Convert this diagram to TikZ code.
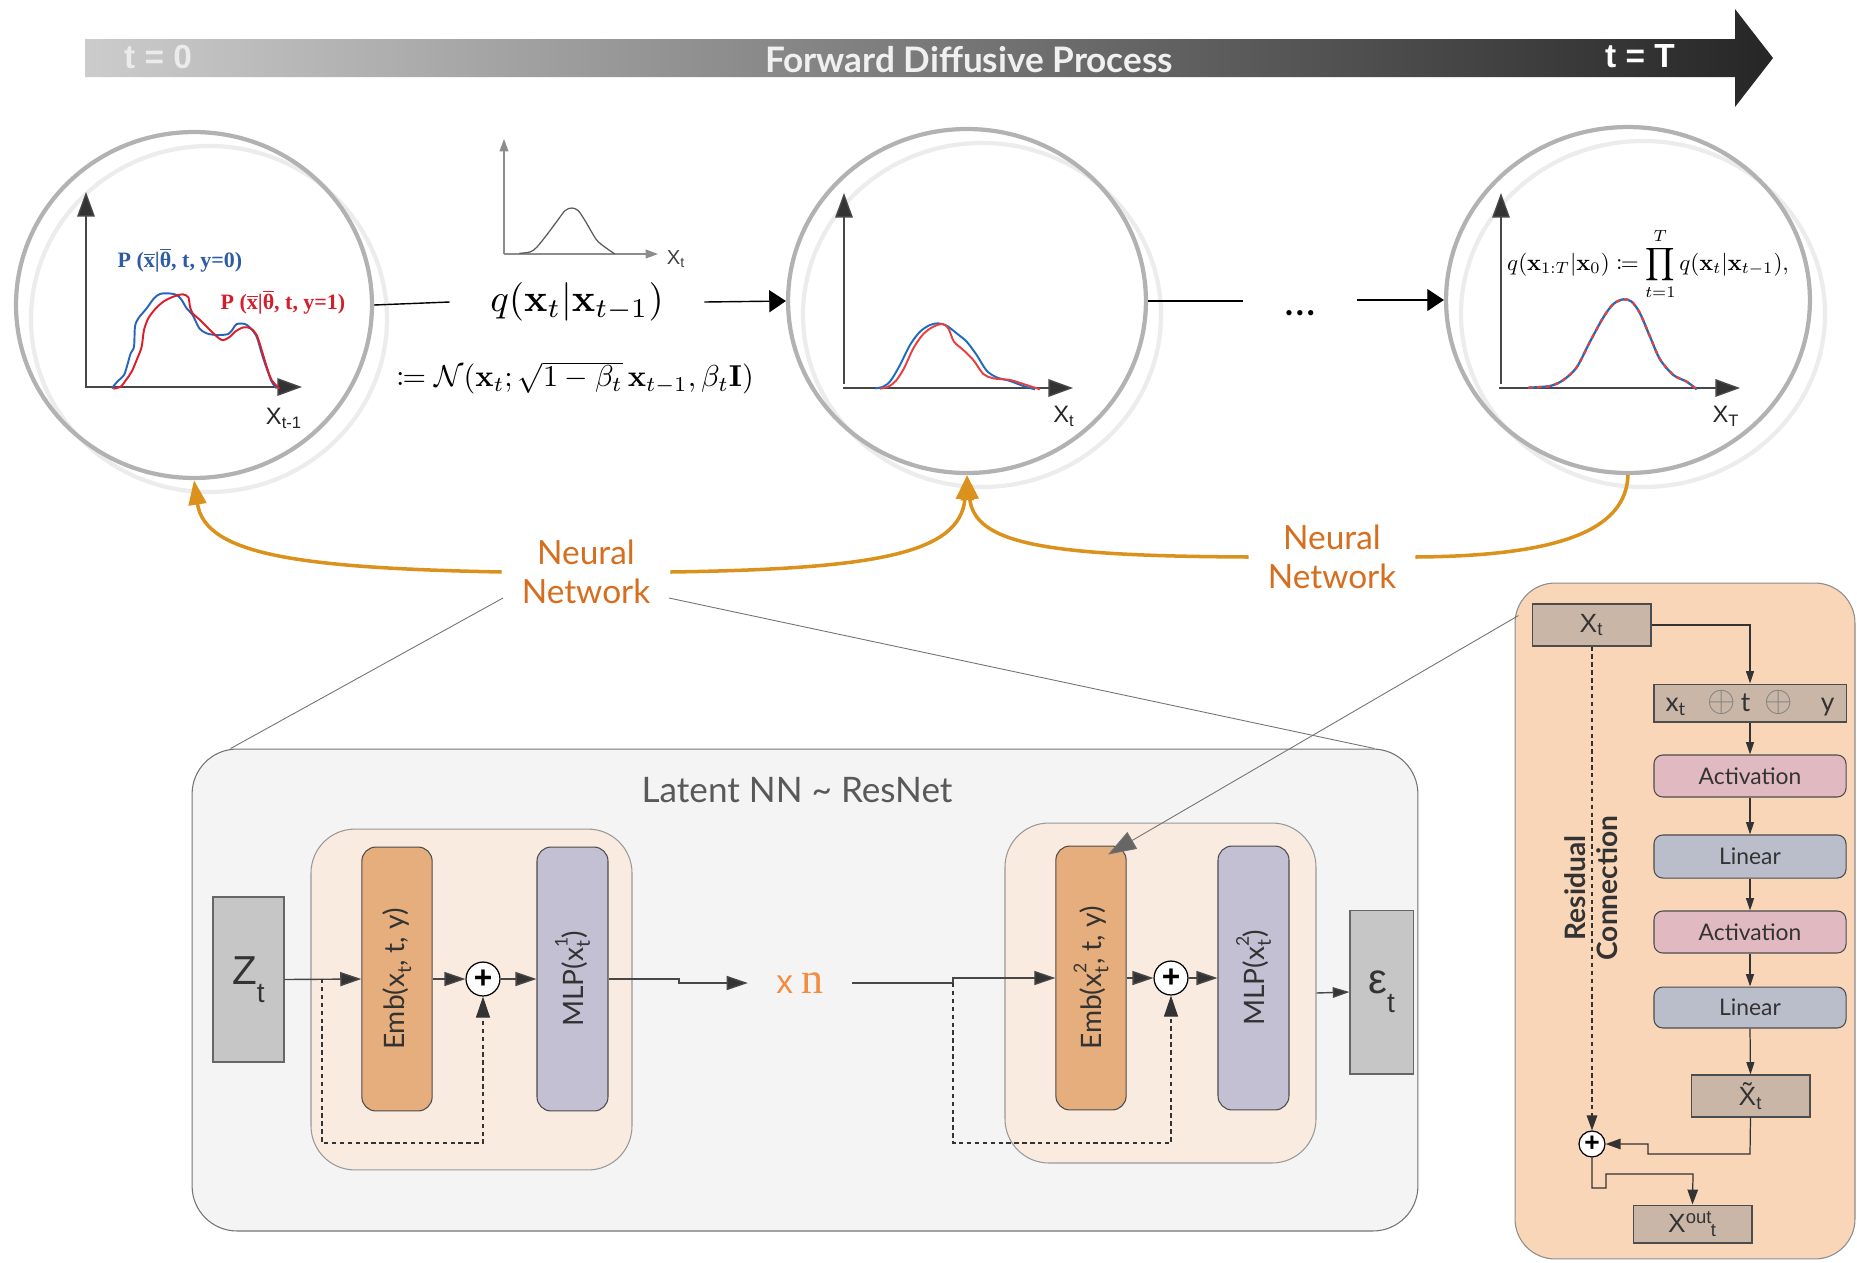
\documentclass[tikz,border=0pt]{standalone}
\usepackage{amsmath,amssymb,mathtools}
\usepackage[no-math]{fontspec}
\setmainfont{Lato}
\newfontfamily\arialf{Liberation Sans}
\newfontfamily\serifb{Liberation Serif}
\usetikzlibrary{arrows.meta,calc,shapes.geometric}

\newcommand{\mysub}[1]{\raisebox{-0.45ex}{\fontsize{11}{11}\selectfont #1}}
\newcommand{\mysubsup}[2]{\rlap{\raisebox{1.1ex}{\fontsize{10}{10}\selectfont #2}}\raisebox{-0.45ex}{\fontsize{11}{11}\selectfont #1}}

\definecolor{bannerL}{RGB}{204,204,204}
\definecolor{bannerR}{RGB}{38,38,38}
\definecolor{orangeline}{RGB}{218,146,28}
\definecolor{orangetext}{RGB}{214,110,32}
\definecolor{circdark}{RGB}{178,178,178}
\definecolor{circlight}{RGB}{236,236,236}
\definecolor{plotblue}{RGB}{28,108,190}
\definecolor{plotred}{RGB}{232,62,62}
\definecolor{lblblue}{RGB}{46,92,164}
\definecolor{lblred}{RGB}{212,30,44}
\definecolor{latentfill}{RGB}{244,244,244}
\definecolor{peachblock}{RGB}{249,235,223}
\definecolor{embfill}{RGB}{230,174,124}
\definecolor{mlpfill}{RGB}{195,192,212}
\definecolor{zfill}{RGB}{198,198,198}
\definecolor{panelfill}{RGB}{249,214,184}
\definecolor{tanfill}{RGB}{201,182,166}
\definecolor{actfill}{RGB}{225,186,193}
\definecolor{linfill}{RGB}{186,190,202}
\definecolor{xnorange}{RGB}{242,140,64}
\definecolor{inkdark}{RGB}{51,51,51}

\tikzset{
  ring/.style={ellipse, draw=circdark, line width=2.4pt, inner sep=0pt},
  lightring/.style={draw=circlight, line width=2.4pt},
  topconn/.style={draw=black, line width=0.8pt},
  toparrow/.style={topconn, -{Triangle[length=9.5pt,width=12.5pt]}},
  axisarrow/.style={draw=black!72, line width=0.8pt, -{Triangle[length=14pt,width=10pt,fill=inkdark]}},
  smallaxis/.style={draw=black!45, line width=0.7pt, -{Triangle[length=7pt,width=5pt]}},
  axlabel/.style={font=\arialf\fontsize{13.5}{13.5}\selectfont, text=black!85},
  bantext/.style={font=\arialf\bfseries\fontsize{19}{19}\selectfont, text=white!92!black},
  nnlabel/.style={font=\fontsize{19}{22}\selectfont, text=orangetext, align=center, inner sep=0pt},
  nncurve/.style={draw=orangeline, line width=2pt},
  nnarrow/.style={nncurve, -{Triangle[length=14pt,width=10pt]}},
  zoomline/.style={draw=black!55, line width=0.5pt},
  blockbg/.style={draw=black!40, fill=peachblock, rounded corners=25pt, line width=0.6pt},
  tallbox/.style={draw=black!70, line width=0.6pt, rounded corners=8pt, minimum width=40pt, minimum height=150.2pt, inner sep=0pt},
  talltext/.style={rotate=90, font=\fontsize{16}{16}\selectfont, text=inkdark},
  greybox/.style={draw=black!60, fill=zfill, line width=0.6pt, inner sep=0pt},
  plusnode/.style={circle, draw=black, fill=white, line width=0.7pt, minimum size=19.3pt, inner sep=0pt, font=\arialf\bfseries\fontsize{18}{18}\selectfont},
  rarrow/.style={draw=black!72, line width=0.8pt, -{Triangle[length=12pt,width=8pt,fill=inkdark]}},
  rdash/.style={draw=black!80, line width=0.6pt, dash pattern=on 2.5pt off 2pt},
  pbox/.style={draw=black!70, line width=0.6pt, minimum width=109.3pt, minimum height=23.9pt, inner sep=0pt, font=\fontsize{13}{13}\selectfont, text=inkdark},
  parrow/.style={draw=black!80, line width=0.7pt, -{Triangle[length=7pt,width=4.5pt]}},
  parrowbig/.style={draw=black!80, line width=0.7pt, -{Triangle[length=8.5pt,width=6pt]}},
}

\begin{document}
\begin{tikzpicture}[x=0.02cm,y=-0.02cm]
\useasboundingbox (0,0) rectangle (1857,1262);
\fill[white] (0,0) rectangle (1857,1262);

% ---------- banner ----------
\shade[left color=bannerL, right color=bannerR] (85,39) -- (1735,39) -- (1735,9) -- (1773,58) -- (1735,107) -- (1735,77) -- (85,77) -- cycle;
\node[bantext] (tzero) at (158,57) {t = 0};
\node[font=\bfseries\fontsize{20}{20}\selectfont, text=white!94!black] (fdp) at (969,60) {Forward Diffusive Process};
\node[bantext, text=white] (tT) at (1640,56) {t = T};

% ---------- circles ----------
\draw[lightring] (209,319) ellipse [x radius=178, y radius=173];
\draw[lightring] (982,315) ellipse [x radius=179, y radius=172];
\draw[lightring] (1643,314) ellipse [x radius=182, y radius=173];
\node[ring, minimum width=202.6pt, minimum height=196.9pt] (c1) at (194,305) {};
\node[ring, minimum width=203.7pt, minimum height=195.8pt] (c2) at (967,301) {};
\node[ring, minimum width=207.1pt, minimum height=196.9pt] (c3) at (1628,300) {};

% ---------- left plot ----------
\draw[axisarrow] (86,388) -- (86,192);
\draw[axisarrow] (86,387) -- (302,387);
\begin{scope}[shift={(0,120)}, scale=1/3]
\draw[color={rgb,255:red,40;green,100;blue,185}, line width=1.1pt] plot[smooth, tension=0.5] coordinates {(335,805) (352,785) (372,765) (382,735) (392,700) (402,680) (405,620) (415,595) (440,565) (462,535) (480,522) (505,520) (530,525) (545,540) (560,565) (578,585) (598,625) (620,640) (650,645) (685,642) (700,625) (710,612) (735,612) (752,625) (770,650) (785,700) (800,745) (815,785) (830,805)};
\draw[color={rgb,255:red,220;green,30;blue,40}, line width=1.1pt] plot[smooth, tension=0.5] coordinates {(340,806) (362,800) (378,780) (395,755) (412,715) (425,680) (432,630) (445,595) (465,568) (490,545) (520,530) (548,523) (565,532) (570,560) (578,580) (600,600) (630,630) (665,660) (690,650) (705,635) (730,622) (752,625) (770,645) (785,690) (800,740) (815,780) (838,806)};
\end{scope}
\node[font=\serifb\bfseries\fontsize{12.5}{12.5}\selectfont, text=lblblue] (pl0) at (180,260) {P ($\overline{\mbox{x}}$|$\overline{\mbox{θ}}$, t, y=0)};
\node[font=\serifb\bfseries\fontsize{12.5}{12.5}\selectfont, text=lblred] (pl1) at (283,302) {P ($\overline{\mbox{x}}$|$\overline{\mbox{θ}}$, t, y=1)};
\node[axlabel] (xl1) at (284,418) {X\textsubscript{t-1}};

% ---------- small plot + formulas ----------
\draw[smallaxis] (504,254) -- (504,139);
\draw[smallaxis] (504,254) -- (658,254);
\begin{scope}[shift={(380,120)}, scale=1/3]
\draw[black!65, line width=0.7pt] plot[smooth, tension=0.5] coordinates {(418,400) (450,396) (470,382) (500,345) (530,305) (555,272) (575,264) (595,272) (620,310) (650,360) (680,385) (705,402)};
\end{scope}
\node[font=\arialf\fontsize{11.5}{11.5}\selectfont, text=black!75] (xls) at (676,259) {X\textsubscript{t}};
\node[scale=2.2, minimum width=65.5pt, inner sep=0pt] (qf) at (577,302) {$q(\mathbf{x}_t|\mathbf{x}_{t-1})$};
\node[scale=1.72, inner sep=0pt] (nf) at (575,378) {$\coloneqq\mathcal{N}(\mathbf{x}_t;\sqrt{1-\beta_t}\,\mathbf{x}_{t-1},\beta_t\mathbf{I})$};

% ---------- middle plot ----------
\draw[axisarrow] (844,384) -- (844,193);
\draw[axisarrow] (843,388) -- (1073,388);
\begin{scope}[shift={(770,120)}, scale=1/3]
\draw[plotblue, line width=1.1pt] plot[smooth, tension=0.5] coordinates {(315,805) (340,800) (362,782) (390,735) (420,675) (450,635) (480,615) (505,610) (530,617) (560,640) (590,665) (620,705) (650,752) (680,772) (720,783) (760,798) (795,808)};
\draw[plotred, line width=1.1pt] plot[smooth, tension=0.5] coordinates {(330,806) (355,800) (378,782) (402,745) (430,685) (460,642) (490,620) (518,612) (535,625) (552,665) (580,690) (610,720) (640,762) (670,775) (720,780) (760,792) (810,808)};
\end{scope}
\node[axlabel] (xl2) at (1064,416) {X\textsubscript{t}};

% ---------- right plot ----------
\draw[axisarrow] (1501,384) -- (1501,193);
\draw[axisarrow] (1499,388) -- (1740,388);
\begin{scope}[shift={(1440,120)}, scale=1/3]
\draw[plotblue, line width=1.3pt] plot[smooth, tension=0.5] coordinates {(265,803) (330,798) (370,780) (410,742) (450,665) (490,592) (520,552) (550,538) (575,545) (600,580) (630,650) (660,718) (700,765) (740,785) (770,808)};
\draw[plotred, line width=1.3pt, dash pattern=on 2.5pt off 2.5pt] plot[smooth, tension=0.5] coordinates {(265,803) (330,798) (370,780) (410,742) (450,665) (490,592) (520,552) (550,538) (575,545) (600,580) (630,650) (660,718) (700,765) (740,785) (770,808)};
\end{scope}
\node[axlabel] (xl3) at (1726,416) {X\textsubscript{T}};
\node[scale=1.31, inner sep=0pt] (rf) at (1648,264) {$\displaystyle q(\mathbf{x}_{1:T}|\mathbf{x}_0)\coloneqq\prod_{t=1}^{T}q(\mathbf{x}_t|\mathbf{x}_{t-1}),$};

% ---------- top connectors ----------
\node[minimum width=64.3pt, inner sep=0pt, font=\fontsize{24}{24}\selectfont] (dots) at (1300,313) {\ldots};
\draw[topconn] (c1.east) -- (qf.west);
\draw[toparrow] (qf.east) -- (c2.west);
\draw[topconn] (c2.east) -- (c2.east -| dots.west);
\draw[toparrow] (dots.east |- c3.west) -- (c3.west);

% ---------- neural network labels ----------
\node[nnlabel, minimum width=95.6pt] (nn1) at (586,572) {Neural\\Network};
\node[nnlabel, minimum width=94.5pt] (nn2) at (1332,557) {Neural\\Network};
\draw[nnarrow] (nn1.west) .. controls (300,568) and (205,555) .. (c1.south);
\draw[nnarrow] (nn1.east) .. controls (870,569) and (960,555) .. (c2.south);
\draw[nnarrow] (nn2.west) .. controls (1050,556) and (975,545) .. (c2.south);
\draw[nncurve] (nn2.east) .. controls (1560,556) and (1626,530) .. (c3.south);

% ---------- latent ResNet box ----------
\node[draw=black!55, fill=latentfill, rounded corners=25.6pt, minimum width=697.7pt, minimum height=274.3pt, line width=0.6pt, inner sep=0pt] (latent) at (805,990) {};
\node[font=\fontsize{20}{20}\selectfont, text=black!65] (ltitle) at (797,790) {Latent NN \textasciitilde{} ResNet};
\coordinate (g1) at (503,598);
\coordinate (g2) at (669,598);
\draw[zoomline] (g1) -- ($(latent.north west)+(39,0)$);
\draw[zoomline] (g2) -- ($(latent.north east)+(-44,0)$);

\node[blockbg, minimum width=182.7pt, minimum height=194pt, inner sep=0pt] (blk1) at (471.5,999.5) {};
\node[blockbg, minimum width=177pt, minimum height=193.5pt, inner sep=0pt] (blk2) at (1160.5,993) {};

% left block
\node[greybox, minimum width=40.4pt, minimum height=93.9pt, font=\arialf\fontsize{23}{23}\selectfont, text=inkdark] (zt) at (248.5,979.5) {Z\raisebox{-0.45em}{\fontsize{16}{16}\selectfont t}};
\node[tallbox, fill=embfill] (emb1) at (397,979) {};
\node[talltext] (emb1t) at (emb1.center) {Emb(x\mysub{t}, t, y)};
\node[plusnode] (plus1) at (483,979) {+};
\node[tallbox, fill=mlpfill, minimum width=40.4pt] (mlp1) at (572.5,979) {};
\node[talltext] (mlp1t) at (mlp1.center) {MLP(x\mysubsup{t}{1}\hspace{1pt})};
\node[minimum width=59pt, minimum height=20pt, inner sep=0pt] (xn) at (800,983) {\textcolor{xnorange}{\arialf\fontsize{19}{19}\selectfont x}\hspace{5pt}\textcolor{xnorange}{\serifb\fontsize{25}{25}\selectfont n}};
\coordinate (sp1) at (322,979);
\draw[rarrow] (zt.east) -- (emb1.west);
\draw[rarrow] (emb1.east) -- (plus1.west);
\draw[rarrow] (plus1.east) -- (mlp1.west);
\draw[rarrow] (mlp1.east) -- (679,979) -- (679,983) -- (xn.west);
\draw[rdash, -{Triangle[length=12pt,width=8pt,fill=inkdark]}] (sp1) -- (322,1143) -| (plus1.south);

% right block
\node[tallbox, fill=embfill] (emb2) at (1091,978) {};
\node[talltext] (emb2t) at (emb2.center) {Emb(x\mysubsup{t}{2}\hspace{1pt}, t, y)};
\node[plusnode] (plus2) at (1171,978) {+};
\node[tallbox, fill=mlpfill, minimum width=40.4pt] (mlp2) at (1253.5,978) {};
\node[talltext] (mlp2t) at (mlp2.center) {MLP(x\mysubsup{t}{2}\hspace{1pt})};
\node[greybox, minimum width=35.9pt, minimum height=93.3pt, font=\arialf\fontsize{24}{24}\selectfont, text=inkdark] (eps) at (1381.5,992) {ε\raisebox{-0.45em}{\fontsize{16}{16}\selectfont t}};
\coordinate (sp2) at (953,983);
\draw[rarrow] (xn.east) -- (sp2) -- (953,978) -- (emb2.west);
\draw[rdash, -{Triangle[length=12pt,width=8pt,fill=inkdark]}] (sp2) -- (953,1143) -| (plus2.south);
\draw[rarrow] (emb2.east) -- (plus2.west);
\draw[rarrow] (plus2.east) -- (mlp2.west);
\draw[draw=black!72, line width=0.8pt, -{Triangle[length=9.5pt,width=6pt,fill=inkdark]}] (blk2.east) -- (eps.west);

% ---------- right panel ----------
\node[draw=black!45, fill=panelfill, rounded corners=22.8pt, minimum width=193.5pt, minimum height=384.7pt, line width=0.6pt, inner sep=0pt] (panel) at (1685,921) {};
\node[pbox, fill=tanfill, minimum width=67.7pt, font=\arialf\fontsize{15}{15}\selectfont] (pxt) at (1591.5,625) {X\textsubscript{t}};
\node[pbox, fill=tanfill, minimum height=21.6pt, font=\fontsize{15}{15}\selectfont] (cat) at (1750,703) {x\textsubscript{t}\hspace{12pt}\textcolor{black!50}{\fontsize{20}{20}\selectfont$\oplus$}\hspace{3pt}t\hspace{8pt}\textcolor{black!50}{\fontsize{20}{20}\selectfont$\oplus$}\hspace{16pt}y};
\node[pbox, fill=actfill, rounded corners=5pt] (act1) at (1750,776) {Activation};
\node[pbox, fill=linfill, rounded corners=5pt, minimum height=24.5pt] (lin1) at (1750,856.5) {Linear};
\node[pbox, fill=actfill, rounded corners=5pt] (act2) at (1750,932) {Activation};
\node[pbox, fill=linfill, rounded corners=5pt, minimum height=23.3pt] (lin2) at (1750,1007.5) {Linear};
\node[pbox, fill=tanfill, minimum width=67.7pt, font=\arialf\fontsize{15}{15}\selectfont] (xtil) at (1750.5,1096) {\~{X}\textsubscript{t}};
\node[plusnode, minimum size=14.8pt, font=\arialf\bfseries\fontsize{15}{15}\selectfont] (plus3) at (1592,1144) {+};
\node[pbox, fill=tanfill, minimum width=67.7pt, minimum height=21.6pt, font=\arialf\fontsize{15}{15}\selectfont] (xout) at (1692.5,1224) {X\rlap{\textsuperscript{out}}\hspace{0.95em}\textsubscript{t}\hspace{0.55em}};
\node[rotate=90, align=center, font=\bfseries\fontsize{16}{18}\selectfont, text=inkdark] (resid) at (1591,888) {Residual\\Connection};

\draw[parrow] (pxt.east) -| (cat.north);
\draw[parrow] (cat.south) -- (act1.north);
\draw[parrow] (act1.south) -- (lin1.north);
\draw[parrow] (lin1.south) -- (act2.north);
\draw[parrow] (act2.south) -- (lin2.north);
\draw[parrow] (lin2.south) -- (xtil.north);
\draw[parrowbig] (xtil.south) -- (1750,1154) -- (1648,1154) -- (1648,1144) -- (plus3.east);
\draw[rdash, -{Triangle[length=8.5pt,width=6pt]}] (pxt.south -| plus3.north) -- (plus3.north);
\draw[parrowbig] (plus3.south) -- (1592,1188) -- (1606,1188) -- (1606,1174) -- (1693,1174) -- (xout.north);

% ---------- zoom arrow into Emb2 ----------
\draw[draw=black!55, line width=0.5pt, -{Triangle[length=16pt,width=11pt,fill=black!60]}] ($(panel.north west)+(4,33)$) -- ($(emb2.north)+(17,9)$);

\end{tikzpicture}
\end{document}
